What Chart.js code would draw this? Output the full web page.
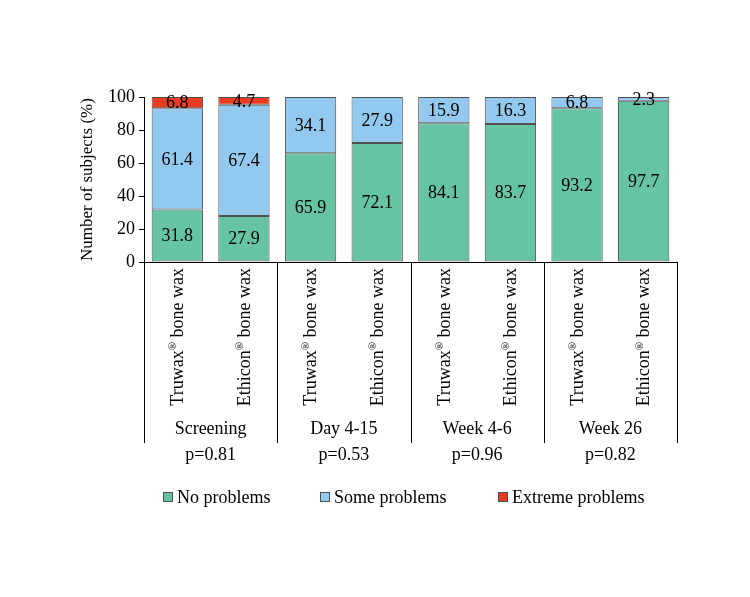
<!DOCTYPE html>
<html>
<head>
<meta charset="utf-8">
<script src="https://cdn.jsdelivr.net/npm/chart.js@4/dist/chart.umd.min.js"></script>
<style>
html,body{margin:0;padding:0;background:#fff;}
#wrap{width:750px;height:597px;}
</style>
</head>
<body>
<div id="wrap"><canvas id="c" width="750" height="597"></canvas></div>
<script>
const products = ["Truwax", "Ethicon", "Truwax", "Ethicon", "Truwax", "Ethicon", "Truwax", "Ethicon"];
const groups = ["Screening", "Day 4-15", "Week 4-6", "Week 26"];
const pValues = ["p=0.81", "p=0.53", "p=0.96", "p=0.82"];
const noProblems = [31.8, 27.9, 65.9, 72.1, 84.1, 83.7, 93.2, 97.7];
const someProblems = [61.4, 67.4, 34.1, 27.9, 15.9, 16.3, 6.8, 2.3];
const extremeProblems = [6.8, 4.7, 0, 0, 0, 0, 0, 0];
const seriesNames = ["No problems", "Some problems", "Extreme problems"];
const yTicks = [0, 20, 40, 60, 80, 100];

const FONT = "'Liberation Serif','Times New Roman',serif";
const colors = ["#66c4a5", "#93c9ee", "#ea3b23"];
const BORDER = '#505050';

const overlay = {
  id: 'overlay',
  afterDatasetsDraw(chart) {
    const ctx = chart.ctx;
    const xs = chart.scales.x;
    const area = chart.chartArea;
    ctx.save();
    // data labels
    ctx.fillStyle = '#000';
    ctx.font = '18px ' + FONT;
    ctx.textAlign = 'center';
    ctx.textBaseline = 'middle';
    chart.data.datasets.forEach((ds, di) => {
      const meta = chart.getDatasetMeta(di);
      meta.data.forEach((bar, i) => {
        const v = ds.data[i];
        if (!v) return;
        const yc = (bar.y + bar.base) / 2;
        ctx.fillText(v.toFixed(1), bar.x, yc + 1);
      });
    });
    // separators
    ctx.strokeStyle = '#000';
    ctx.lineWidth = 1;
    const step = (area.right - area.left) / products.length;
    for (let g = 0; g <= groups.length; g++) {
      const x = Math.round(area.left + g * 2 * step) + 0.5;
      ctx.beginPath();
      ctx.moveTo(x, area.bottom);
      ctx.lineTo(x, 443);
      ctx.stroke();
    }
    // rotated category labels
    products.forEach((p, i) => {
      const cx = xs.getPixelForValue(i);
      const big = '18px ' + FONT, small = '11px ' + FONT;
      ctx.font = big;
      const w1 = ctx.measureText(p).width;
      const w3 = ctx.measureText(' bone wax').width;
      ctx.font = small;
      const w2 = ctx.measureText('\u00AE').width;
      const total = w1 + w2 + w3;
      ctx.save();
      ctx.translate(cx, 268);
      ctx.rotate(-Math.PI / 2);
      ctx.textAlign = 'left';
      ctx.textBaseline = 'middle';
      let x = -total;
      ctx.font = big;
      ctx.fillText(p, x, 1);
      x += w1;
      ctx.font = small;
      ctx.fillText('\u00AE', x, -4);
      x += w2;
      ctx.font = big;
      ctx.fillText(' bone wax', x, 1);
      ctx.restore();
    });
    // group labels and p values
    ctx.font = '18px ' + FONT;
    ctx.textAlign = 'center';
    ctx.textBaseline = 'middle';
    groups.forEach((g, k) => {
      const cx = area.left + (2 * k + 1) * step;
      ctx.fillText(g, cx, 429);
      ctx.fillText(pValues[k], cx, 455);
    });
    // legend
    const legendX = [163, 320, 498];
    ctx.textAlign = 'left';
    chart.data.datasets.forEach((d, i) => {
      const x = legendX[i];
      ctx.fillStyle = d.backgroundColor;
      ctx.fillRect(x, 492, 10, 10);
      ctx.strokeStyle = BORDER;
      ctx.strokeRect(x + 0.5, 492.5, 9, 9);
      ctx.fillStyle = '#000';
      ctx.fillText(d.label, x + 14, 498);
    });
    ctx.restore();
  }
};

new Chart(document.getElementById('c'), {
  type: 'bar',
  data: {
    labels: products,
    datasets: [
      { label: seriesNames[0], data: noProblems, backgroundColor: colors[0], borderColor: BORDER, borderWidth: 1 },
      { label: seriesNames[1], data: someProblems, backgroundColor: colors[1], borderColor: BORDER, borderWidth: 1 },
      { label: seriesNames[2], data: extremeProblems, backgroundColor: colors[2], borderColor: BORDER, borderWidth: 1 }
    ]
  },
  options: {
    responsive: false,
    animation: false,
    layout: { padding: { top: 97, right: 73, bottom: 154, left: 75 } },
    datasets: { bar: { barPercentage: 0.77, categoryPercentage: 1.0, borderSkipped: false } },
    scales: {
      x: {
        stacked: true,
        grid: { display: false, drawTicks: false },
        border: { color: '#000', width: 1 },
        ticks: { display: false },
        afterFit(s) { s.height = 181; }
      },
      y: {
        stacked: true,
        min: 0, max: 100,
        afterBuildTicks(s) { s.ticks = yTicks.map(v => ({ value: v })); },
        grid: { drawOnChartArea: false, drawTicks: true, tickLength: 5, color: '#000' },
        border: { color: '#000', width: 1 },
        ticks: { color: '#000', font: { family: FONT, size: 18 }, padding: 4 },
        title: { display: true, text: 'Number of subjects (%)', color: '#000', font: { family: FONT, size: 17 }, padding: 2 },
        afterFit(s) { s.width = 69; }
      }
    },
    plugins: {
      legend: { display: false },
      tooltip: { enabled: false }
    }
  },
  plugins: [overlay]
});
</script>
</body>
</html>
